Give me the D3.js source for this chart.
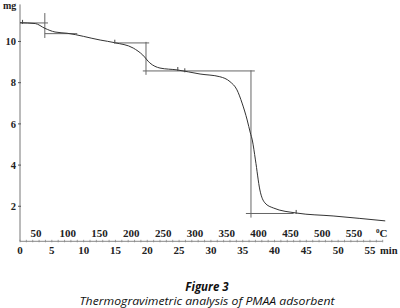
<!DOCTYPE html>
<html>
<head>
<meta charset="utf-8">
<script src="https://cdn.jsdelivr.net/npm/d3@7"></script>
<style>
  body { margin: 0; background: #fff; }
  svg { display: block; }
</style>
</head>
<body>
<svg id="chart"></svg>
<script>
const W = 400, H = 308;

// TGA curve: time (min) vs mass (mg)
const timeMin = [0, 2.4, 3.9, 5.5, 7.4, 12.6, 14.9, 17.8, 19.3, 20.4, 22.0, 24.7, 28.3, 31.4,
  33.0, 34.1, 34.9, 35.7, 36.2, 36.5, 37.0, 37.7, 38.5, 39.8, 43.5, 49.2, 57.4];
const massMg = [10.91, 10.87, 10.64, 10.46, 10.40, 10.07, 9.94, 9.68, 9.34, 8.96, 8.71, 8.62, 8.42, 8.29,
  8.05, 7.65, 7.01, 6.19, 5.56, 5.22, 4.25, 2.79, 2.16, 1.92, 1.67, 1.53, 1.29];

// step construction lines [t1, m1, t2, m2]
const stepLines = [
  [0, 10.9, 4.4, 10.9],
  [3.9, 11.38, 3.9, 10.17],
  [3.9, 10.38, 9.0, 10.38],
  [15.0, 9.93, 20.3, 9.93],
  [19.8, 9.98, 19.8, 8.38],
  [19.3, 8.57, 36.9, 8.57],
  [36.3, 8.6, 36.3, 1.45],
  [35.5, 1.65, 43.0, 1.65]
];
// little marks on the curve
const markTimes = [0.4, 14.9, 24.8, 25.9, 43.4];

const yTicks = [2, 4, 6, 8, 10];
const minTicks = [0, 5, 10, 15, 20, 25, 30, 35, 40, 45, 50, 55];
const tempTicks = [50, 100, 150, 200, 250, 300, 350, 400, 450, 500, 550];

const svg = d3.select('#chart').attr('width', W).attr('height', H);

const x = d3.scaleLinear().domain([0, 57]).range([20, 382.7]);
const t = d3.scaleLinear().domain([25, 595]).range([20, 382.7]);
const y = d3.scaleLinear().domain([0.3, 11.8]).range([241.3, 4.4]);

const serif = 'Liberation Serif, Times New Roman, serif';

// y axis
svg.append('line')
  .attr('x1', 20).attr('x2', 20)
  .attr('y1', y(11.8)).attr('y2', y(0.3))
  .attr('stroke', '#777').attr('stroke-width', 1);
const yAxis = svg.append('g').selectAll('g').data(yTicks).enter().append('g');
yAxis.append('line')
  .attr('x1', 18).attr('x2', 21)
  .attr('y1', d => y(d)).attr('y2', d => y(d))
  .attr('stroke', '#555');
yAxis.append('text')
  .attr('x', 16).attr('y', d => y(d)).attr('dy', '0.35em')
  .attr('text-anchor', 'end')
  .attr('font-family', serif).attr('font-weight', 'bold').attr('font-size', 10.5)
  .attr('fill', '#222')
  .text(d => d);
svg.append('text')
  .attr('x', 3).attr('y', 9)
  .attr('font-family', serif).attr('font-weight', 'bold').attr('font-size', 10)
  .attr('fill', '#222').text('mg');

// x axis with minor ticks
const xAxisY = 241.3;
svg.append('line')
  .attr('x1', 20).attr('x2', x(57))
  .attr('y1', xAxisY).attr('y2', xAxisY)
  .attr('stroke', '#888');
svg.append('g').selectAll('line').data(d3.range(0, 57.1, 1)).enter().append('line')
  .attr('x1', d => x(d)).attr('x2', d => x(d))
  .attr('y1', xAxisY - 1.5).attr('y2', xAxisY + 1)
  .attr('stroke', '#888').attr('stroke-width', 0.8);

svg.append('g').selectAll('text').data(minTicks).enter().append('text')
  .attr('x', d => x(d)).attr('y', 254)
  .attr('text-anchor', 'middle')
  .attr('font-family', serif).attr('font-weight', 'bold').attr('font-size', 11)
  .attr('fill', '#222')
  .text(d => d);
svg.append('text')
  .attr('x', 380).attr('y', 254)
  .attr('font-family', serif).attr('font-weight', 'bold').attr('font-size', 10.5)
  .attr('fill', '#222').text('min');

svg.append('g').selectAll('text').data(tempTicks).enter().append('text')
  .attr('x', d => t(d)).attr('y', 237)
  .attr('text-anchor', 'middle')
  .attr('font-family', serif).attr('font-weight', 'bold').attr('font-size', 11)
  .attr('fill', '#222')
  .text(d => d);
const degC = svg.append('text')
  .attr('x', 376).attr('y', 237)
  .attr('font-family', serif).attr('font-weight', 'bold').attr('font-size', 11)
  .attr('fill', '#222');
degC.append('tspan').attr('font-size', 7).attr('dy', -4).text('0');
degC.append('tspan').attr('dy', 4).text('C');

// step lines
svg.append('g').selectAll('line').data(stepLines).enter().append('line')
  .attr('x1', d => x(d[0])).attr('y1', d => y(d[1]))
  .attr('x2', d => x(d[2])).attr('y2', d => y(d[3]))
  .attr('stroke', '#666').attr('stroke-width', 1);

// curve
const pts = timeMin.map((tm, i) => [tm, massMg[i]]);
const line = d3.line()
  .x(d => x(d[0]))
  .y(d => y(d[1]))
  .curve(d3.curveMonotoneX);
svg.append('path')
  .datum(pts)
  .attr('d', line)
  .attr('fill', 'none')
  .attr('stroke', '#333').attr('stroke-width', 1);

// marks on the curve
const interp = tm => {
  const i = d3.bisector(d => d).right(timeMin, tm) - 1;
  const j = Math.min(i + 1, timeMin.length - 1);
  const f = j === i ? 0 : (tm - timeMin[i]) / (timeMin[j] - timeMin[i]);
  return massMg[i] + f * (massMg[j] - massMg[i]);
};
svg.append('g').selectAll('line').data(markTimes).enter().append('line')
  .attr('x1', d => x(d)).attr('x2', d => x(d))
  .attr('y1', d => y(interp(d)) - 3).attr('y2', d => y(interp(d)) + 1)
  .attr('stroke', '#444');

// caption
svg.append('text')
  .attr('x', 207).attr('y', 291)
  .attr('text-anchor', 'middle')
  .attr('font-family', 'Open Sans, sans-serif').attr('font-style', 'italic').attr('font-weight', 'bold')
  .attr('font-size', 11.5).attr('fill', '#111')
  .text('Figure 3');
svg.append('text')
  .attr('x', 207).attr('y', 304.5)
  .attr('text-anchor', 'middle')
  .attr('font-family', 'Open Sans, sans-serif').attr('font-style', 'italic')
  .attr('font-size', 11).attr('fill', '#111')
  .attr('textLength', 255).attr('lengthAdjust', 'spacingAndGlyphs')
  .text('Thermogravimetric analysis of PMAA adsorbent');
</script>
</body>
</html>
